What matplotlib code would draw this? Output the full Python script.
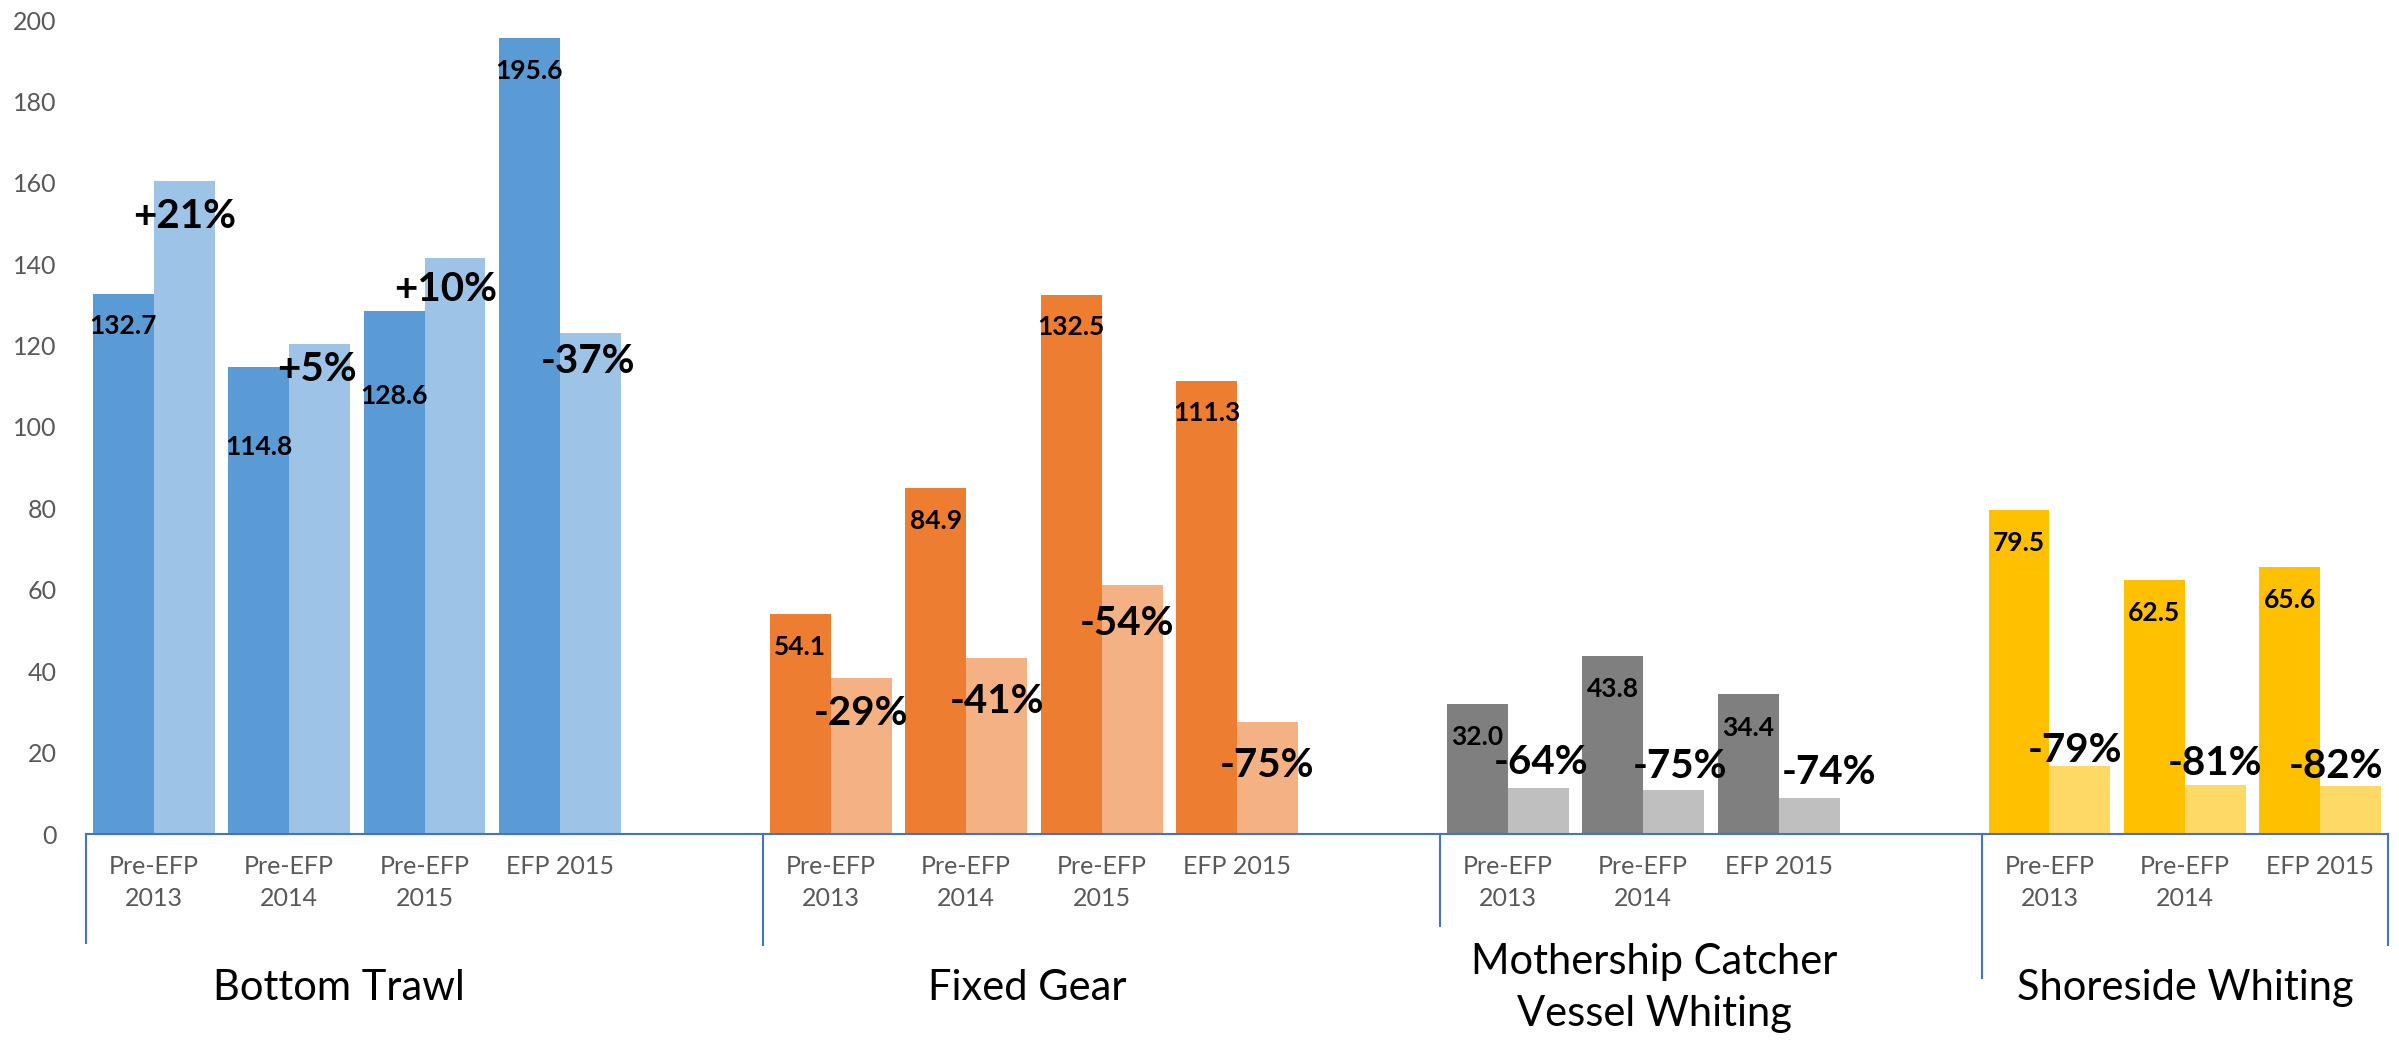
import matplotlib.pyplot as plt
from matplotlib.transforms import blended_transform_factory

plt.rcParams["font.family"] = ["Lato", "DejaVu Sans"]

# categories
groups = ["Bottom Trawl", "Fixed Gear", "Mothership Catcher\nVessel Whiting", "Shoreside Whiting"]
periods_4 = ["Pre-EFP\n2013", "Pre-EFP\n2014", "Pre-EFP\n2015", "EFP 2015"]
periods_3 = ["Pre-EFP\n2013", "Pre-EFP\n2014", "EFP 2015"]

# values (dark = labelled value, light = comparison bar)
bottom_base = [132.7, 114.8, 128.6, 195.6]
bottom_new = [160.5, 120.5, 141.5, 123.2]
bottom_pct = ["+21%", "+5%", "+10%", "-37%"]

fixed_base = [54.1, 84.9, 132.5, 111.3]
fixed_new = [38.3, 43.3, 61.2, 27.6]
fixed_pct = ["-29%", "-41%", "-54%", "-75%"]

mothership_base = [32.0, 43.8, 34.4]
mothership_new = [11.4, 10.9, 8.9]
mothership_pct = ["-64%", "-75%", "-74%"]

shoreside_base = [79.5, 62.5, 65.6]
shoreside_new = [16.6, 12.0, 11.7]
shoreside_pct = ["-79%", "-81%", "-82%"]

# label placement
base_label_y = [[124.8, 95.2, 107.6, 187.5], [45.9, 77.0, 124.6, 103.4],
                [23.9, 35.6, 26.1], [71.6, 54.3, 57.6]]
pct_label_y = [[151.8, 114.2, 133.8, 116.2], [29.5, 32.5, 51.8, 16.8],
               [17.5, 16.5, 15.0], [20.4, 17.3, 16.5]]
pct_label_dx = [[0, -0.02, -0.07, -0.02], [0, 0, -0.04, 0],
                [0.02, 0.05, 0.15], [-0.04, 0, -0.11]]
group_label_dx = [-0.13, -0.05, 0.08, 0.0]
blank_slots = [1, 1, 1, 0]
bracket_bottom_px = [943, 945, 926, 978, 945]

series = [
    (periods_4, bottom_base, bottom_new, bottom_pct, "#5B9BD5", "#9DC3E6"),
    (periods_4, fixed_base, fixed_new, fixed_pct, "#ED7D31", "#F4B183"),
    (periods_3, mothership_base, mothership_new, mothership_pct, "#7F7F7F", "#BFBFBF"),
    (periods_3, shoreside_base, shoreside_new, shoreside_pct, "#FFC000", "#FFD966"),
]

H = 1041
fig = plt.figure(figsize=(23.99, 10.41), dpi=100)
ax = fig.add_axes([86 / 2399, 1 - 834 / H, (2388 - 86) / 2399, (834 - 20) / H])
tr = blended_transform_factory(ax.transData, fig.transFigure)

w = 0.45
x = 0
bounds = [-0.5]
for g, (periods, base, new, pct, dark, light) in enumerate(series):
    start = x
    for j in range(len(base)):
        ax.bar(x - w / 2, base[j], w, color=dark, zorder=2)
        ax.bar(x + w / 2, new[j], w, color=light, zorder=2)
        ax.text(x - w / 2, base_label_y[g][j], f"{base[j]:.1f}", ha="center", va="center",
                fontsize=19, fontweight="bold", color="black", zorder=3)
        ax.text(x + w / 2 + pct_label_dx[g][j], pct_label_y[g][j], pct[j], ha="center",
                va="center", fontsize=29, fontweight="bold", color="black", zorder=3)
        ax.text(x, 1 - 855 / H, periods[j], transform=tr, ha="center", va="top",
                fontsize=18, color="#595959", linespacing=1.45)
        x += 1
    ax.text((start + x - 1) / 2 + group_label_dx[g], 1 - 988 / H, groups[g], transform=tr,
            ha="center", va="center", fontsize=30, color="black", linespacing=1.45)
    x += blank_slots[g]
    bounds.append(x - 0.5)

for b, px in zip(bounds, bracket_bottom_px):
    ax.plot([b, b], [1 - 834 / H, 1 - px / H], transform=tr, color="#4472C4", lw=1.5,
            clip_on=False)

ax.set_xlim(-0.5, x - 0.5)
ax.set_ylim(0, 200)
ax.set_yticks(range(0, 201, 20))
ax.set_xticks([])
ax.tick_params(axis="y", length=0, pad=21, labelsize=18, labelcolor="#595959")
for s in ["top", "right", "left"]:
    ax.spines[s].set_visible(False)
ax.spines["bottom"].set_color("#4472C4")
ax.spines["bottom"].set_linewidth(1.5)

fig.savefig("out.png", dpi=100)
